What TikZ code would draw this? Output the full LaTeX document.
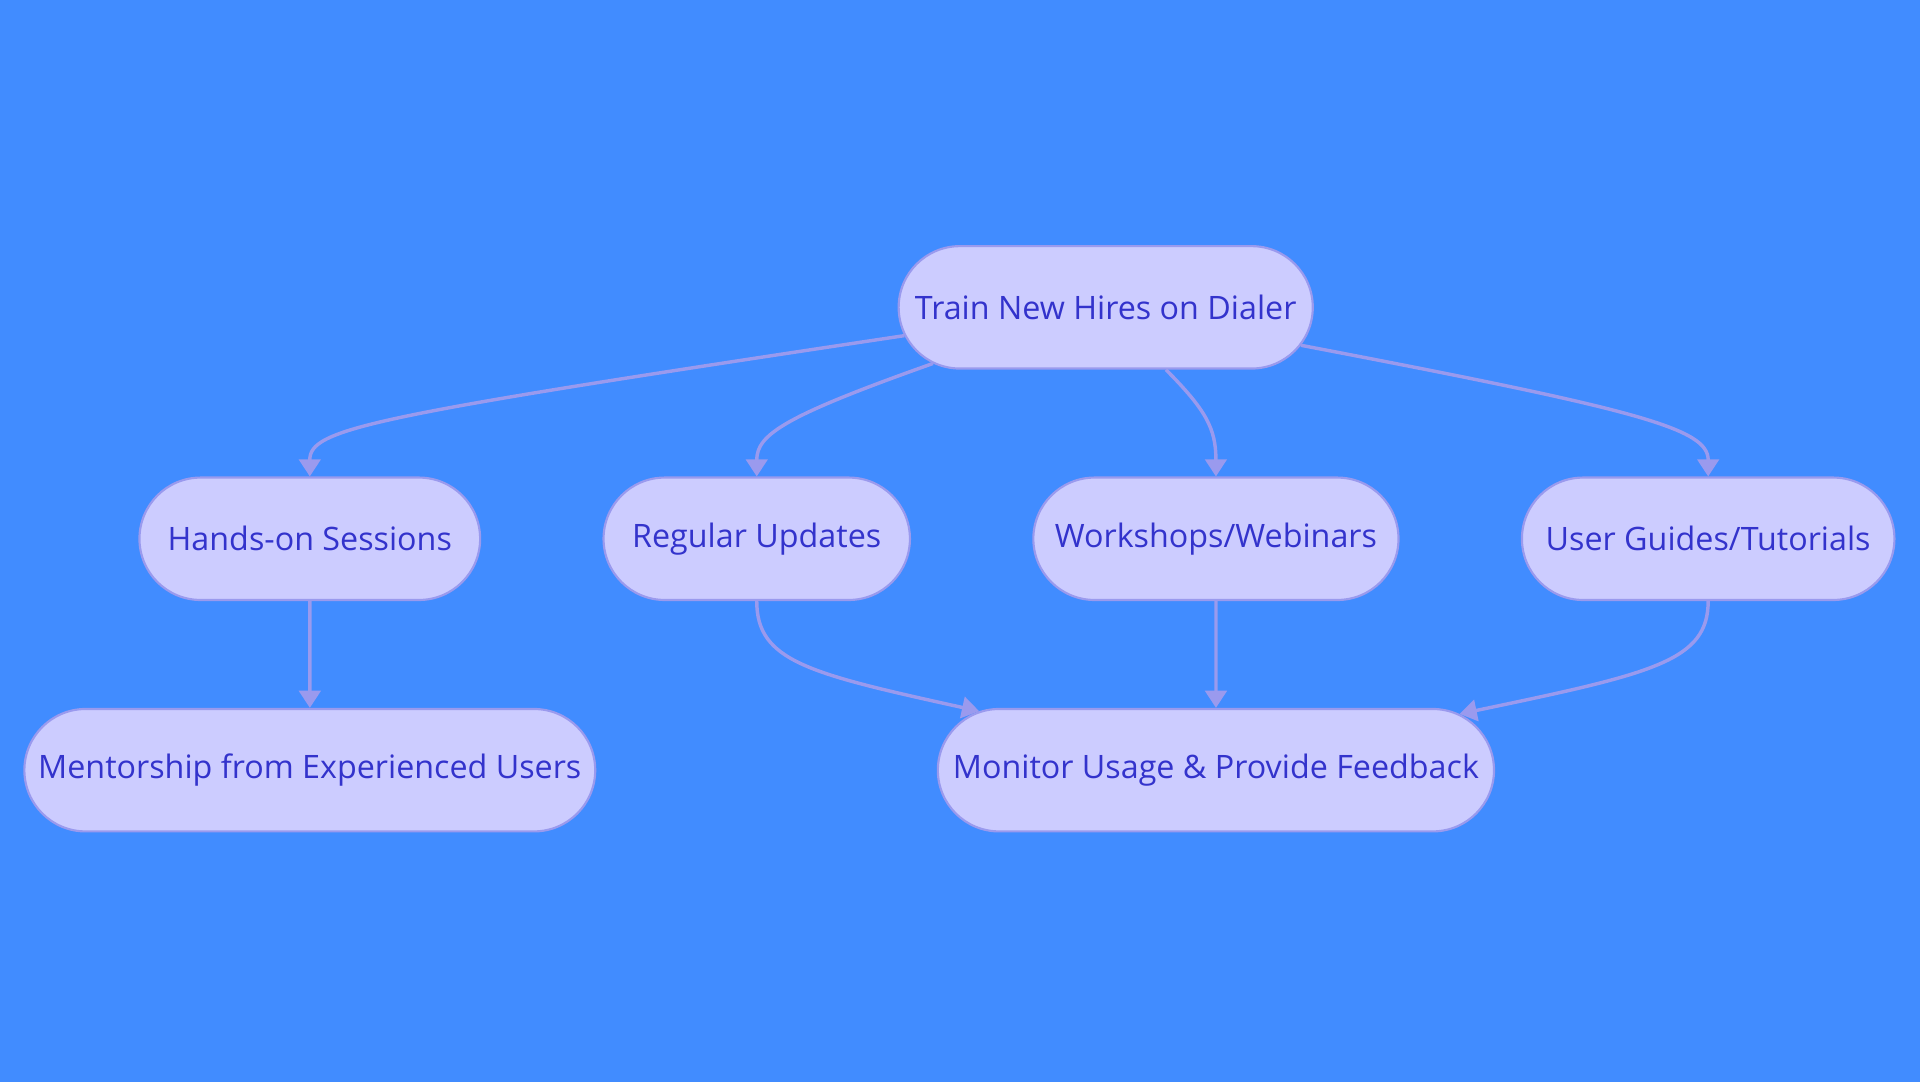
\documentclass[tikz,border=0pt]{standalone}
\usepackage{fontspec}
\setmainfont{Open Sans}
\usetikzlibrary{shapes.misc, positioning, arrows.meta}
\definecolor{bgblue}{HTML}{418CFF}
\definecolor{boxfill}{HTML}{CCCCFF}
\definecolor{boxline}{HTML}{9A9AEE}
\definecolor{boxtext}{HTML}{3333CC}
\tikzstyle{stage} = [rounded rectangle, minimum height=2cm, text centered, draw=boxline, line width=1pt, fill=boxfill, text=boxtext, font=\fontsize{15}{18}\selectfont]
\tikzstyle{arrow} = [draw=boxline, line width=1.6pt, -{Triangle[length=8pt,width=10pt]}]

\begin{document}
\begin{tikzpicture}[x=0.02cm, y=-0.02cm]
\fill[bgblue] (0,0) rectangle (1568,884);

\node (train) [stage, minimum width=7cm] at (903,251) {Train New Hires on Dialer};
\node (hands) [stage, minimum width=5.8cm] at (253,440) {Hands-on Sessions};
\node (updates) [stage, minimum width=5.24cm] at (618,440) {Regular Updates};
\node (workshops) [stage, minimum width=6.2cm] at (993,440) {Workshops/Webinars};
\node (guides) [stage, minimum width=6.32cm] at (1395,440) {User Guides/Tutorials};
\node (mentor) [stage, minimum width=9.56cm] at (253,629) {Mentorship from Experienced Users};
\node (monitor) [stage, minimum width=9.32cm] at (993,629) {Monitor Usage \& Provide Feedback};

\draw [arrow] (train.188) .. controls (300,340) and (253,350) .. (hands.north);
\draw [arrow] (train.198) .. controls (640,340) and (618,355) .. (updates.north);
\draw [arrow] (train.314) .. controls (985,335) and (993,350) .. (workshops.north);
\draw [arrow] (train.349) .. controls (1340,335) and (1395,350) .. (guides.north);
\draw [arrow] (hands) -- (mentor);
\draw [arrow] (updates.south) .. controls (618,540) and (660,550) .. (monitor.166);
\draw [arrow] (workshops) -- (monitor);
\draw [arrow] (guides.south) .. controls (1395,540) and (1350,550) .. (monitor.13);
\end{tikzpicture}
\end{document}
